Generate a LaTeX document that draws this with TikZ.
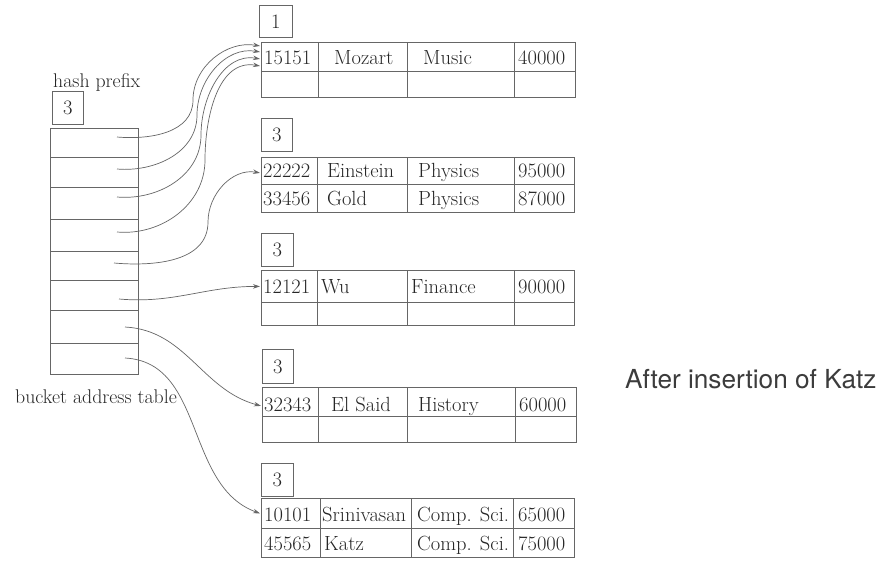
\documentclass[tikz,border=0pt]{standalone}
\usepackage{fontspec}
\newfontfamily\herosfont{TeX Gyre Heros}
\usetikzlibrary{arrows.meta,calc}
\definecolor{lncol}{HTML}{666666}
\definecolor{txcol}{HTML}{262626}
\tikzset{
  cell/.style={draw=lncol, line width=0.8pt, inner sep=0pt, anchor=north west},
  dbox/.style={cell, text=txcol, font=\fontsize{20.5}{24}\selectfont},
  txt/.style={text=txcol, inner sep=0pt, anchor=base west, font=\fontsize{20.5}{24}\selectfont},
  lbl/.style={text=txcol, inner sep=0pt, anchor=base west, font=\fontsize{19.8}{23}\selectfont},
  arr/.style={draw=lncol, line width=0.7pt, -{Stealth[length=7pt,width=4.5pt]}},
}
% one record row of a bucket: name, top y, height, five column x positions
\newcommand\brow[8]{%
  \pgfmathsetmacro\cwA{#5-#4}\pgfmathsetmacro\cwB{#6-#5}%
  \pgfmathsetmacro\cwC{#7-#6}\pgfmathsetmacro\cwD{#8-#7}%
  \node[cell,minimum width=\cwA pt,minimum height=#3pt] (#1-1) at (#4,-#2) {};
  \node[cell,minimum width=\cwB pt,minimum height=#3pt] (#1-2) at (#5,-#2) {};
  \node[cell,minimum width=\cwC pt,minimum height=#3pt] (#1-3) at (#6,-#2) {};
  \node[cell,minimum width=\cwD pt,minimum height=#3pt] (#1-4) at (#7,-#2) {};
}
\begin{document}
\begin{tikzpicture}[x=1pt,y=1pt]
\useasboundingbox[fill=white] (0,0) rectangle (884,-566);

% hash prefix and bucket address table
\node[lbl] (hp) at (53,-87) {hash prefix};
\node[dbox,minimum width=31pt,minimum height=33pt] (gd) at (52,-91) {3};
\node[cell,minimum width=88pt,minimum height=29pt] (bat0) at (50,-128) {};
\node[cell,minimum width=88pt,minimum height=30pt] (bat1) at (50,-157) {};
\node[cell,minimum width=88pt,minimum height=32pt] (bat2) at (50,-187) {};
\node[cell,minimum width=88pt,minimum height=32pt] (bat3) at (50,-219) {};
\node[cell,minimum width=88pt,minimum height=29pt] (bat4) at (50,-251) {};
\node[cell,minimum width=88pt,minimum height=30pt] (bat5) at (50,-280) {};
\node[cell,minimum width=88pt,minimum height=33pt] (bat6) at (50,-310) {};
\node[cell,minimum width=88pt,minimum height=31pt] (bat7) at (50,-343) {};
\node[lbl] (batl) at (15,-403) {bucket address table};

% local depth boxes
\node[dbox,minimum width=33pt,minimum height=32pt] (d1) at (259,-5) {1};
\node[dbox,minimum width=31pt,minimum height=33pt] (d2) at (261,-118) {3};
\node[dbox,minimum width=32pt,minimum height=33pt] (d3) at (261,-233) {3};
\node[dbox,minimum width=31pt,minimum height=34pt] (d4) at (262,-349) {3};
\node[dbox,minimum width=32pt,minimum height=33pt] (d5) at (261,-463) {3};

% buckets
\brow{b1a}{42}{29}{261}{318}{407}{514}{575}
\brow{b1b}{71}{26}{261}{318}{407}{514}{575}
\brow{b2a}{157}{27}{261}{317}{407}{514}{574}
\brow{b2b}{184}{28}{261}{317}{407}{514}{574}
\brow{b3a}{270}{32}{261}{317}{407}{514}{574}
\brow{b3b}{302}{23}{261}{317}{407}{514}{574}
\brow{b4a}{387}{29}{262}{318}{407}{515}{576}
\brow{b4b}{416}{26}{262}{318}{407}{515}{576}
\brow{b5a}{498}{30}{261}{320}{411}{513}{574}
\brow{b5b}{528}{29}{261}{320}{411}{513}{574}

% record texts
\node[txt] (t11) at (264,-64) {15151};
\node[txt] (t12) at (334,-64) {Mozart};
\node[txt] (t13) at (423,-64) {Music};
\node[txt] (t14) at (518,-64) {40000};

\node[txt] (t21) at (263,-177) {22222};
\node[txt] (t22) at (327,-177) {Einstein};
\node[txt] (t23) at (418,-177) {Physics};
\node[txt] (t24) at (518,-177) {95000};
\node[txt] (t25) at (263,-205) {33456};
\node[txt] (t26) at (327,-205) {Gold};
\node[txt] (t27) at (418,-205) {Physics};
\node[txt] (t28) at (518,-205) {87000};

\node[txt] (t31) at (263,-293) {12121};
\node[txt] (t32) at (321,-293) {Wu};
\node[txt] (t33) at (411,-293) {Finance};
\node[txt] (t34) at (518,-293) {90000};

\node[txt] (t41) at (264,-411) {32343};
\node[txt] (t42) at (331,-411) {El Said};
\node[txt] (t43) at (418,-411) {History};
\node[txt] (t44) at (519,-411) {60000};

\node[txt] (t51) at (264,-521) {10101};
\node[txt] (t52) at (322,-521) {Srinivasan};
\node[txt] (t53) at (417,-521) {Comp. Sci.};
\node[txt] (t54) at (518,-521) {65000};
\node[txt] (t55) at (264,-550) {45565};
\node[txt] (t56) at (324,-550) {Katz};
\node[txt] (t57) at (417,-550) {Comp. Sci.};
\node[txt] (t58) at (518,-550) {75000};

% caption
\node[text=txcol!90, inner sep=0pt, anchor=base west, font=\herosfont\fontsize{26.2}{30}\selectfont] (cap) at (625,-388) {After insertion of Katz};

% pointer start points
\coordinate (s0) at (117,-137);
\coordinate (s1) at (117,-169);
\coordinate (s2) at (117,-197);
\coordinate (s3) at (117,-232);
\coordinate (s4) at (114,-263);
\coordinate (s5) at (119,-299);
\coordinate (s6) at (125,-327);
\coordinate (s7) at (125,-358);

% pointers
\draw[arr] (s0) to[out=-5,in=-90] (193,-100) to[out=90,in=170] ($(b1a-1.north west)+(-1,-4)$);
\draw[arr] (s1) to[out=-5,in=-90] (197,-115) to[out=90,in=170] ($(b1a-1.north west)+(-1,-10)$);
\draw[arr] (s2) to[out=-5,in=-90] (201,-135) to[out=90,in=170] ($(b1a-1.north west)+(-1,-17)$);
\draw[arr] (s3) to[out=-5,in=-90] (205,-160) to[out=90,in=170] ($(b1a-1.north west)+(-1,-24)$);
\draw[arr] (s4) to[out=-5,in=-90] (208,-222) to[out=90,in=170] ($(b2a-1.west)+(-1,-2)$);
\draw[arr] (s5) to[out=-5,in=180] ($(b3a-1.west)+(-1,0)$);
\draw[arr] (s6) to[out=-3,in=165] ($(b4a-1.west)+(-1,-4)$);
\draw[arr] (s7) to[out=-3,in=160] ($(b5a-1.west)+(-1,0)$);
\end{tikzpicture}
\end{document}
